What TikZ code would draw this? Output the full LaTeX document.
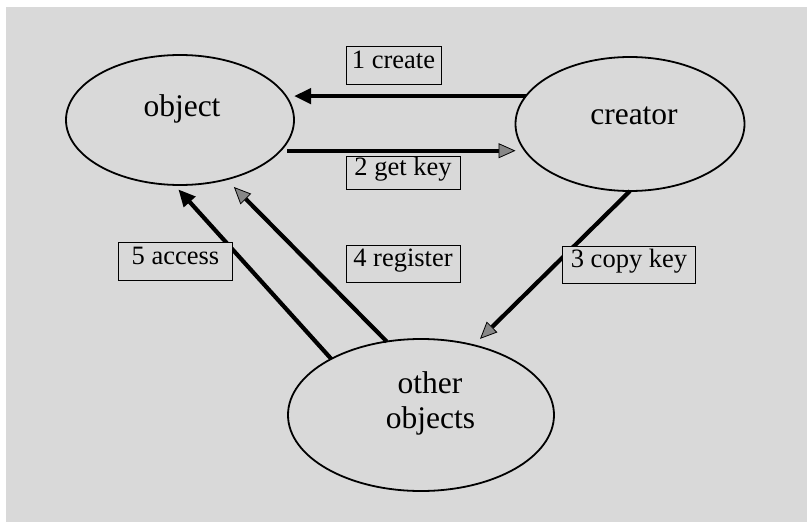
\documentclass[tikz,border=0pt]{standalone}
\usepackage{fontspec}
\setmainfont{Liberation Serif}
\usetikzlibrary{arrows.meta,shapes.geometric}
\definecolor{paper}{RGB}{217,217,217}
\definecolor{headgray}{RGB}{135,135,135}
\begin{document}
\begin{tikzpicture}[x=1pt,y=-1pt,
  every node/.style={inner sep=0pt,outer sep=0pt},
  party/.style={draw=black,line width=1.8pt,ellipse,minimum width=228pt,minimum height=130pt},
  partytext/.style={font=\fontsize{31.5}{36}\selectfont,anchor=base},
  tag/.style={draw=black,line width=1pt,fill=paper,font=\fontsize{26.5}{30}\selectfont,
    text height=18pt,text depth=12pt,minimum height=37pt},
  flow/.style={line width=4.2pt,draw=black},
  darkhead/.style={-{Triangle[length=17pt,width=15pt]}},
  greyhead/.style={-{Triangle[length=17pt,width=15pt,fill=headgray,line width=0.8pt]}}]

% page and paper
\useasboundingbox (0,0) rectangle (807,522);
\fill[white] (0,0) rectangle (807,522);
\fill[paper] (6,7) rectangle (807,522);

% the three parties
\node[party] (object) at (180,120) {};
\node[party,minimum width=229pt,minimum height=134pt] (creator) at (630,124) {};
\node[party,minimum width=266pt,minimum height=152pt] (others) at (421,415) {};

\node[partytext] (objecttext) at (182,116.7) {object};
\node[partytext] (creatortext) at (634,124.3) {creator};
\node[partytext] (otherstext) at (430,393) {other};
\node[partytext] (otherstext2) at (430.5,428.3) {objects};

% messages
\draw[flow,darkhead] (creator.165) -- (object.east |- creator.165);
\draw[flow,greyhead,shorten <=7pt] (object.-17) -- (object.-17 -| creator.west);
\draw[flow,greyhead,shorten >=9pt] (creator.-90) -- (others.53);
\draw[flow,greyhead,shorten >=10.7pt] (others.115.5) -- (object.-52);
\draw[flow,darkhead,shorten >=6pt] (others.148) -- (object.-95);

% message labels
\node[tag,minimum width=95pt,minimum height=38pt] (create) at (393.5,65) {1 create};
\node[tag,minimum width=114pt,minimum height=33pt] (getkey) at (403,172.5) {2 get key};
\node[tag,minimum width=133pt] (copykey) at (629,264.5) {3 copy key};
\node[tag,minimum width=114pt] (register) at (403,263.5) {4 register};
\node[tag,minimum width=114pt,minimum height=38pt] (access) at (175.5,261.7) {5 access};
\end{tikzpicture}
\end{document}
